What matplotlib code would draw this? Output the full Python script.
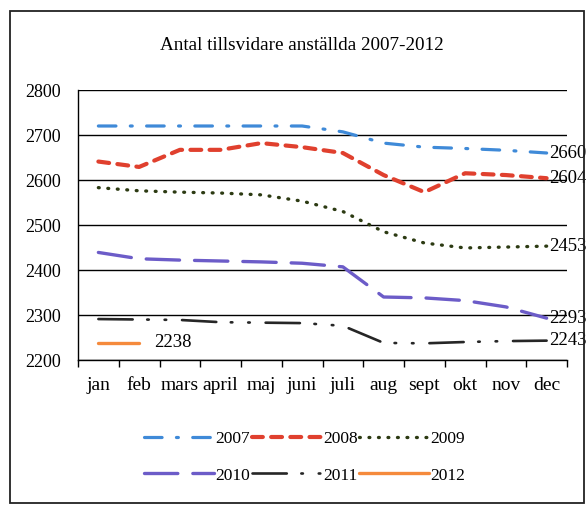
import matplotlib
matplotlib.use('Agg')
import matplotlib.pyplot as plt
import matplotlib.patches as patches
import numpy as np

months = ['jan', 'feb', 'mars', 'april', 'maj', 'juni', 'juli', 'aug', 'sept', 'okt', 'nov', 'dec']
y2007 = [2720, 2720, 2720, 2720, 2720, 2720, 2707, 2682, 2673, 2670, 2666, 2660]
y2008 = [2641, 2629, 2667, 2667, 2682, 2673, 2660, 2611, 2573, 2615, 2611, 2604]
y2009 = [2583, 2576, 2573, 2571, 2567, 2553, 2530, 2485, 2460, 2449, 2451, 2453]
y2010 = [2439, 2425, 2422, 2420, 2418, 2415, 2407, 2340, 2338, 2332, 2318, 2293]
y2011 = [2291, 2290, 2289, 2284, 2283, 2282, 2276, 2238, 2237, 2240, 2242, 2243]
y2012 = [2238, 2238]
years = ['2007', '2008', '2009', '2010', '2011', '2012']

plt.rcParams['font.family'] = ['Liberation Serif', 'DejaVu Serif']

fig = plt.figure(figsize=(5.86, 5.07), dpi=100)
ax = fig.add_axes([78/586, 1-360/507, (567-78)/586, (360-90)/507])

x = np.arange(len(months))
series = [y2007, y2008, y2009, y2010, y2011, y2012]
colors = ['#3f8ad8', '#e0402e', '#2c3a12', '#6c5cc8', '#262626', '#f58a3c']
widths = [2.3, 3.0, 2.4, 2.4, 1.9, 2.4]
styles = [(0, (5.5, 4.5, 0.6, 4.5)),
          (0, (2.6, 2.0)),
          (0, (0.25, 2.6)),
          (0, (10, 4.5)),
          (0, (13, 5.5, 0.6, 6, 0.6, 6)),
          '-']

lines = []
for i in range(len(series)):
    vals = series[i]
    ln, = ax.plot(x[:len(vals)], vals, color=colors[i], lw=widths[i], ls=styles[i],
                  dash_capstyle='round', solid_capstyle='round', label=years[i], zorder=3)
    lines.append(ln)
    ax.annotate(str(vals[-1]), xy=(x[len(vals)-1], vals[-1]), xytext=(2 if i < 5 else 11, 0),
                textcoords='offset points', va='center', ha='left', fontsize=13.5,
                annotation_clip=False, clip_on=False, zorder=4)

ax.set_xlim(-0.5, 11.5)
ax.set_ylim(2200, 2800)
ax.set_yticks(np.arange(2200, 2801, 100))
ax.set_xticks(x)
ax.set_xticklabels(months, fontsize=14)
ax.set_xticks(np.arange(-0.5, 12, 1), minor=True)
ax.tick_params(axis='x', which='major', length=0, pad=12)
ax.tick_params(axis='x', which='minor', length=5, direction='out', width=1)
ax.tick_params(axis='y', length=0, pad=12, labelsize=13)
ax.grid(axis='y', color='black', lw=1)
ax.set_axisbelow(True)
for s in ['top', 'right']:
    ax.spines[s].set_visible(False)
ax.spines['left'].set_linewidth(1)
ax.spines['bottom'].set_linewidth(1)

fig.text(0.515, 1-45/507, 'Antal tillsvidare anställda 2007-2012', ha='center', va='center', fontsize=13.8)

order = [0, 3, 1, 4, 2, 5]
fig.legend([lines[k] for k in order], [years[k] for k in order], loc='center', ncol=3,
           bbox_to_anchor=(0.52, 1-457/507), frameon=False, fontsize=12.5,
           handlelength=4.0, handletextpad=0.1, columnspacing=0.1, labelspacing=1.2)

fig.patches.append(patches.Rectangle((10/586, 4/507), 574/586, 492/507, transform=fig.transFigure,
                                     fill=False, edgecolor='#222222', lw=1.3))

fig.savefig('out.png', dpi=100)
